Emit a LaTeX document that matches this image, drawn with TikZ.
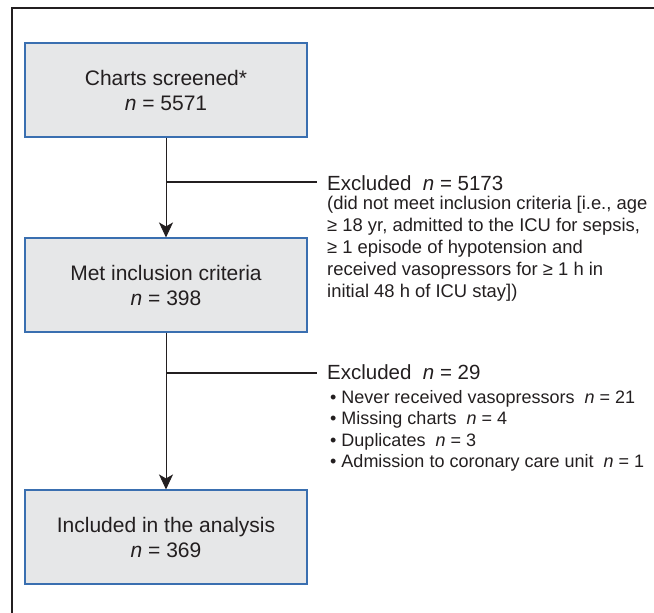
\documentclass[tikz,border=0pt]{standalone}
\usepackage{fontspec}
\setmainfont{Liberation Sans}
\usetikzlibrary{arrows.meta,calc}
\definecolor{boxfill}{HTML}{E6E7E8}
\definecolor{boxline}{HTML}{3A6FB0}
\definecolor{ink}{HTML}{231F20}

\begin{document}
\begin{tikzpicture}[x=1pt,y=-1pt,
    stage/.style={draw=boxline,fill=boxfill,line width=1.1pt,minimum width=282pt,minimum height=94pt,
      align=center,inner sep=0pt,text=ink,font=\fontsize{21}{25}\selectfont},
    flow/.style={-{Stealth[length=15pt,width=14pt,inset=4pt]},ink,line width=0.9pt},
    branch/.style={ink,line width=1.8pt},
    headtext/.style={anchor=base west,inner sep=0pt,text=ink,font=\fontsize{20.5}{24}\selectfont},
    subtext/.style={anchor=north west,inner sep=0pt,align=left,text=ink}]
            \useasboundingbox (0,0) rectangle (654,613);
            \draw[ink,line width=1.4pt] (12,613) -- (12,8) -- (654,8);
            % boxes
            \node[stage] (screen) at (166,90) {Charts screened*\\\textit{n} = 5571};
            \node[stage] (met) at (166,285) {Met inclusion criteria\\\textit{n} = 398};
            \node[stage] (incl) at (166,537) {Included in the analysis\\\textit{n} = 369};
            % exclusions
            \node[headtext] (exclA) at (327,190) {Excluded\ \ \textit{n} = 5173};
            \node[subtext,font=\fontsize{18.4}{22}\selectfont] (whyA) at (327,196) {(did not meet inclusion criteria [i.e., age\\
              ≥ 18 yr, admitted to the ICU for sepsis,\\
              ≥ 1 episode of hypotension and\\
              received vasopressors for ≥ 1 h in\\
              initial 48 h of ICU stay])};
            \node[headtext] (exclB) at (327,379) {Excluded\ \ \textit{n} = 29};
            \node[subtext,font=\fontsize{18}{21.5}\selectfont] (whyB) at (330,390) {• Never received vasopressors\ \ \textit{n} = 21\\
              • Missing charts\ \ \textit{n} = 4\\
              • Duplicates\ \ \textit{n} = 3\\
              • Admission to coronary care unit\ \ \textit{n} = 1};
            \coordinate (jA) at (166,182);
            \coordinate (jB) at (166,373);
            % connectors
            \draw[flow] (screen) -- (met);
            \draw[flow] (met) -- (incl);
            \draw[branch] (jA) -- ($(jA -| exclA.west)+(-10,0)$);
            \draw[branch] (jB) -- ($(jB -| exclB.west)+(-10,0)$);
\end{tikzpicture}
\end{document}
